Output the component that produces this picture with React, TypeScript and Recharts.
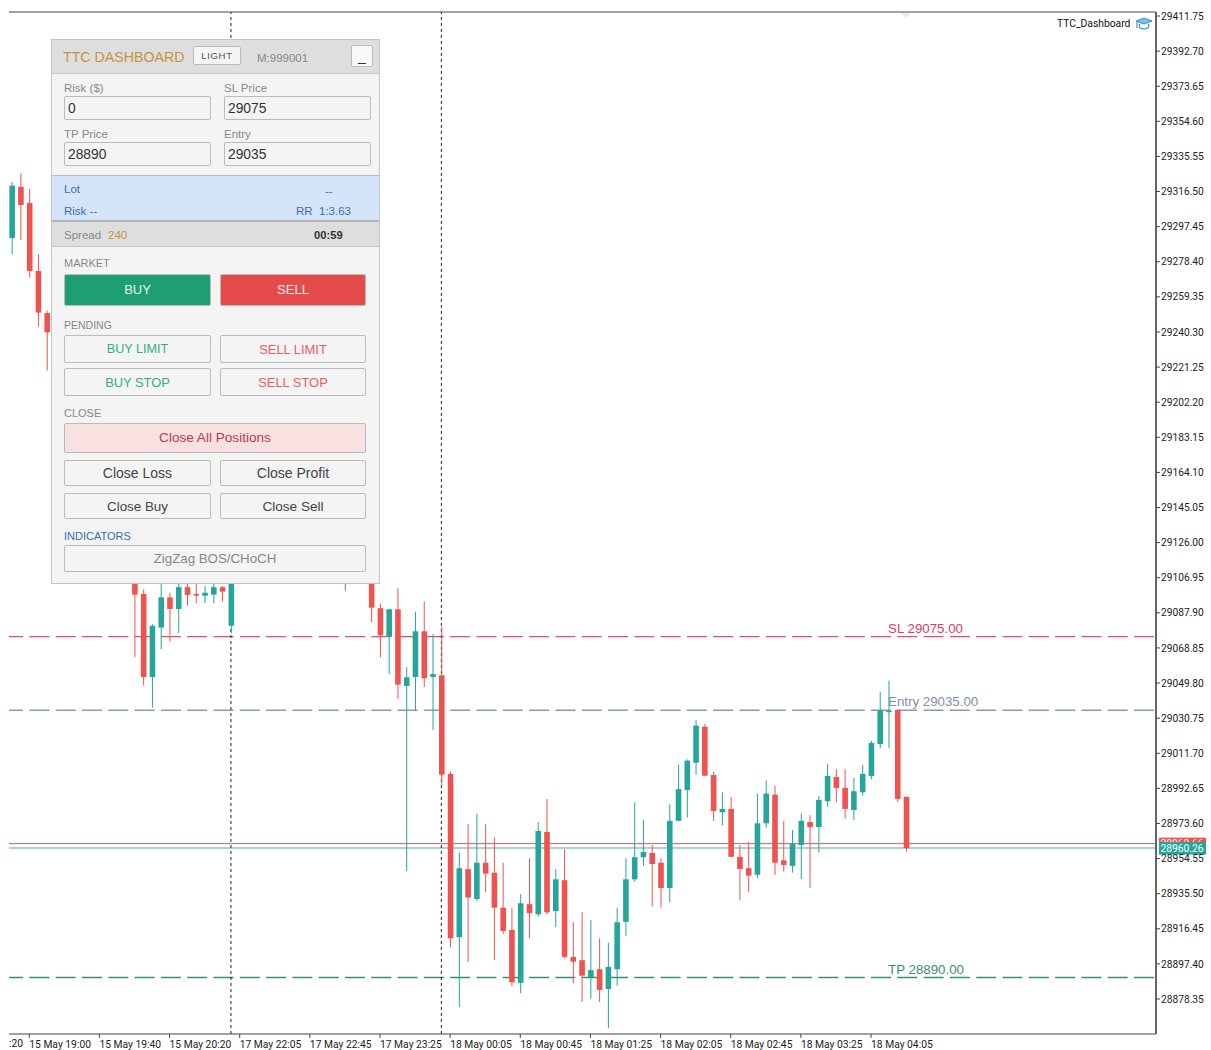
import React from 'react';
import { ComposedChart, Bar, XAxis, YAxis, ReferenceLine, ReferenceDot } from 'recharts';

// Candles hidden completely behind the dashboard panel are left out
const candleIndex = [
  0, 1, 2, 3, 4,
  14, 15, 16, 17, 18, 19, 20, 21, 22, 23, 24, 25,
  38, 41, 42, 43, 44, 45, 46, 47, 48, 49,
  50, 51, 52, 53, 54, 55, 56, 57, 58, 59,
  60, 61, 62, 63, 64, 65, 66, 67, 68, 69,
  70, 71, 72, 73, 74, 75, 76, 77, 78, 79,
  80, 81, 82, 83, 84, 85, 86, 87, 88, 89,
  90, 91, 92, 93, 94, 95, 96, 97, 98, 99,
  100, 101, 102,
];
const opens = [
  29291.3, 29319.0, 29310.3, 29273.4, 29250.6,
  29108.4, 29098.1, 29053.1, 29079.9, 29096.3, 29090.0, 29101.8, 29098.1, 29097.2, 29097.8, 29101.8, 29080.9,
  29108.4, 29108.4, 29090.4, 29075.0, 29089.8, 29048.2, 29053.1, 29077.9, 29053.1, 29054.0,
  29000.5, 28911.9, 28948.8, 28932.6, 28952.3, 28946.9, 28927.9, 28915.8, 28887.1, 28929.8,
  28924.3, 28969.0, 28926.1, 28942.8, 28901.2, 28899.4, 28890.3, 28894.5, 28883.8, 28894.5,
  28920.2, 28943.3, 28955.3, 28957.6, 28952.3, 28938.6, 28975.0, 28991.8, 29006.6, 29026.1,
  28999.9, 28979.7, 28981.5, 28955.5, 28949.3, 28945.8, 28973.7, 28989.2, 28953.6, 28950.6,
  28961.9, 28974.4, 28971.6, 28985.7, 28998.8, 28992.9, 28980.9, 28990.5, 28999.4, 29016.7,
  29034.0, 29035.2, 28988.0,
];
const highs = [
  29321.8, 29326.4, 29317.9, 29282.6, 29251.9,
  29111.2, 29100.7, 29081.7, 29104.1, 29098.8, 29105.7, 29105.7, 29105.7, 29102.5, 29105.2, 29102.5, 29116.6,
  29111.2, 29111.2, 29092.9, 29090.0, 29101.2, 29058.4, 29088.5, 29094.0, 29076.3, 29080.4,
  29001.7, 28957.8, 28973.3, 28978.8, 28973.2, 28966.1, 28952.3, 28927.9, 28935.2, 28954.7,
  28974.4, 28986.9, 28948.8, 28959.6, 28920.0, 28925.4, 28921.3, 28911.3, 28908.9, 28927.9,
  28954.7, 28985.1, 28975.5, 28961.9, 28954.7, 28984.0, 29005.4, 29008.4, 29029.8, 29027.6,
  29001.7, 28990.5, 28988.0, 28961.9, 28963.6, 28989.8, 28997.0, 28994.0, 28975.0, 28970.1,
  28979.1, 28978.1, 28988.5, 29005.9, 29003.0, 29003.0, 28998.3, 29005.4, 29018.4, 29045.1,
  29051.1, 29035.6, 28988.2,
];
const lows = [
  29282.5, 29290.2, 29269.8, 29243.2, 29219.3,
  29063.8, 29048.4, 29036.4, 29068.1, 29072.3, 29076.8, 29091.8, 29093.1, 29093.1, 29093.1, 29094.0, 29076.8,
  29099.9, 29082.8, 29063.8, 29054.7, 29041.2, 28947.8, 29034.8, 29047.7, 29024.3, 28993.6,
  28906.4, 28873.9, 28898.3, 28931.6, 28936.3, 28899.4, 28913.7, 28885.4, 28881.5, 28911.3,
  28923.0, 28924.3, 28917.3, 28900.5, 28886.9, 28876.8, 28878.6, 28876.8, 28862.5, 28885.6,
  28912.6, 28942.0, 28950.6, 28928.5, 28927.9, 28930.9, 28975.0, 28976.8, 29000.1, 28999.5,
  28975.0, 28972.6, 28955.5, 28932.1, 28936.3, 28944.0, 28971.3, 28945.7, 28947.5, 28946.9,
  28943.5, 28938.6, 28957.8, 28982.7, 28985.1, 28976.2, 28975.5, 28988.7, 28997.6, 29014.4,
  29014.4, 28985.1, 28958.3,
];
const closes = [
  29319.7, 29309.2, 29273.4, 29250.8, 29240.1,
  29097.8, 29053.1, 29080.9, 29096.3, 29090.0, 29101.8, 29097.6, 29097.2, 29098.8, 29101.8, 29099.4, 29111.2,
  29106.8, 29090.7, 29075.7, 29089.8, 29048.9, 29052.9, 29077.9, 29052.4, 29054.7, 29000.1,
  28911.3, 28949.3, 28933.4, 28952.3, 28946.4, 28927.9, 28915.3, 28887.4, 28930.3, 28924.9,
  28969.5, 28925.4, 28943.3, 28901.2, 28898.6, 28891.0, 28894.0, 28883.3, 28895.8, 28920.0,
  28943.3, 28955.3, 28958.1, 28951.6, 28938.6, 28975.0, 28992.2, 29007.7, 29026.7, 28999.5,
  28980.4, 28981.5, 28955.5, 28948.9, 28945.3, 28973.7, 28989.8, 28952.3, 28951.1, 28962.7,
  28975.0, 28971.6, 28986.4, 28999.4, 28992.9, 28981.5, 28991.1, 29000.5, 29017.3, 29035.0,
  29034.7, 28986.9, 28960.2,
];

const priceTicks = [
  29411.75, 29392.7, 29373.65, 29354.6, 29335.55, 29316.5, 29297.45, 29278.4, 29259.35, 29240.3,
  29221.25, 29202.2, 29183.15, 29164.1, 29145.05, 29126.0, 29106.95, 29087.9, 29068.85, 29049.8,
  29030.75, 29011.7, 28992.65, 28973.6, 28954.55, 28935.5, 28916.45, 28897.4, 28878.35,
];
const timeTicks = [2, 10, 18, 26, 34, 42, 50, 58, 66, 74, 82, 90, 98];
const timeLabels = [
  '15 May 19:00', '15 May 19:40', '15 May 20:20', '17 May 22:05', '17 May 22:45', '17 May 23:25',
  '18 May 00:05', '18 May 00:45', '18 May 01:25', '18 May 02:05', '18 May 02:45', '18 May 03:25', '18 May 04:05',
];
const crosshairCandles = [25, 49];

const slPrice = 29075;
const entryPrice = 29035;
const tpPrice = 28890;
const bidPrice = 28960.26;
const askPrice = 28962.66;

const UP = '#26a69a';
const DOWN = '#ef5350';
const AXIS_FONT = 'Roboto, sans-serif';
const PANEL_FONT = '"Liberation Sans", Arial, sans-serif';
const X_DOMAIN = [-0.31, 130.5];
const Y_DOMAIN = [28859.36, 29413.92];
const DASH = '20 6.3';
const LINE_Z = 100; // keep price lines and crosshairs under the candles

const chartData = candleIndex.map((index, i) => ({
  index,
  open: opens[i],
  high: highs[i],
  low: lows[i],
  close: closes[i],
}));

// Bar spans low..high, so the body can be placed from the same pixel ratio
const Candle = (props: any) => {
  const { x, y, width, height, payload } = props;
  const { open, high, low, close } = payload;
  const color = close >= open ? UP : DOWN;
  const ratio = height / (high - low);
  const bodyTop = y + (high - Math.max(open, close)) * ratio;
  const bodyH = Math.max(Math.abs(open - close) * ratio, 1);
  const cx = x + width / 2;
  return (
    <g>
      <line x1={cx} x2={cx} y1={y} y2={y + height} stroke={color} strokeWidth={1} />
      <rect x={x} y={bodyTop} width={width} height={bodyH} fill={color} />
    </g>
  );
};

const TimeTick = (props: any) => {
  const { x, y, payload } = props;
  return (
    <text x={x} y={y + 8} textAnchor="start" fontSize={10.3} fontFamily={AXIS_FONT} fill="#222">
      {timeLabels[timeTicks.indexOf(payload.value)]}
    </text>
  );
};

const lineLabel = (text: string, color: string) => (p: any) => (
  <text x={p.cx - 0.5} y={p.cy - 4} fontSize={13.3} fontFamily={PANEL_FONT} fill={color}>
    {text}
  </text>
);

const priceTag = (text: string, color: string) => (p: any) => (
  <g>
    <rect x={p.cx + 3} y={p.cy - 6} width={47} height={12.5} fill={color} />
    <text x={p.cx + 26} y={p.cy + 3.5} textAnchor="middle" fontSize={10.3} fontFamily={AXIS_FONT} fill="#fff">
      {text}
    </text>
  </g>
);

const inputLabel = { color: '#888', size: 11.5 };

const Label = ({ x, y, text, color = inputLabel.color, size = inputLabel.size, weight = 400 }: any) => (
  <div
    style={{
      position: 'absolute', left: x, top: y - 9, height: 18, lineHeight: '18px',
      color, fontSize: size, fontWeight: weight, whiteSpace: 'pre',
    }}
  >
    {text}
  </div>
);

const Box = ({ x, y, w, h, text, color = '#444', bg = '#f4f4f4', size = 14, border = '#bbb', spacing = 0, pad = 0 }: any) => (
  <div
    style={{
      position: 'absolute', left: x, top: y, width: w, height: h, boxSizing: 'border-box',
      display: 'flex', alignItems: 'center', justifyContent: 'center', paddingBottom: pad,
      background: bg, color, fontSize: size, letterSpacing: spacing, border: `1px solid ${border}`, borderRadius: 2,
    }}
  >
    {text}
  </div>
);

const Field = ({ x, y, text }: any) => (
  <div
    style={{
      position: 'absolute', left: x, top: y, width: 147, height: 24, boxSizing: 'border-box',
      border: '1px solid #bbb', borderRadius: 2, paddingLeft: 3, lineHeight: '23px',
      fontSize: 13.8, color: '#333',
    }}
  >
    {text}
  </div>
);

const Band = ({ y, h, bg }: any) => (
  <div style={{ position: 'absolute', left: 52, top: y, width: 327, height: h, background: bg }} />
);

const Panel = () => (
  <div style={{ position: 'absolute', left: 0, top: 0, fontFamily: PANEL_FONT, zIndex: 5 }}>
    <div
      style={{
        position: 'absolute', left: 51, top: 39, width: 329, height: 545, boxSizing: 'border-box',
        background: '#f4f4f4', border: '1px solid #c4c4c4',
      }}
    />
    <Band y={40} h={33} bg="#dedede" />
    <div style={{ position: 'absolute', left: 52, top: 73, width: 327, height: 1, background: '#c8c8c8' }} />
    <Label x={63} y={57} text="TTC DASHBOARD" color="#c8933a" size={14.2} />
    <Box x={193} y={46} w={48} h={19} text="LIGHT" color="#555" size={9.6} spacing={0.6} />
    <Label x={257} y={58} text="M:999001" color="#888" size={11.5} />
    <Box x={351} y={45} w={22} h={22} text="_" color="#333" size={14} bg="#f8f8f8" />

    <Label x={64} y={88} text="Risk ($)" />
    <Label x={224} y={88} text="SL Price" />
    <Field x={64} y={96} text="0" />
    <Field x={224} y={96} text="29075" />
    <Label x={64} y={134} text="TP Price" />
    <Label x={224} y={134} text="Entry" />
    <Field x={64} y={142} text="28890" />
    <Field x={224} y={142} text="29035" />

    <div style={{ position: 'absolute', left: 52, top: 175, width: 327, height: 1, background: '#bbb' }} />
    <Band y={176} h={44} bg="#d6e4fa" />
    <Label x={64} y={189} text="Lot" color="#3a6db0" />
    <Label x={325} y={191} text="--" color="#3a6db0" />
    <Label x={64} y={211} text="Risk --" color="#3a6db0" />
    <Label x={296} y={211} text="RR  1:3.63" color="#3a6db0" />
    <Band y={220} h={27} bg="#dedede" />
    <div style={{ position: 'absolute', left: 52, top: 220, width: 327, height: 2, background: '#b4b4b4' }} />
    <div style={{ position: 'absolute', left: 52, top: 246, width: 327, height: 1, background: '#c4c4c4' }} />
    <Label x={64} y={235} text="Spread" />
    <Label x={108} y={235} text="240" color="#c8933a" />
    <Label x={314} y={235} text="00:59" color="#333" weight={700} size={11.2} />

    <Label x={64} y={263} text="MARKET" size={11} />
    <Box x={64} y={274} w={147} h={32} text="BUY" color="#e8f5ef" bg="#1d9e75" size={13} pad={2} />
    <Box x={220} y={274} w={146} h={32} text="SELL" color="#fdeeee" bg="#e54b4b" size={13} pad={2} />

    <Label x={64} y={325} text="PENDING" size={10.5} />
    <Box x={64} y={335} w={147} h={28} text="BUY LIMIT" color="#2fae8a" size={12.6} />
    <Box x={220} y={335} w={146} h={28} text="SELL LIMIT" color="#ee5a64" size={12.9} />
    <Box x={64} y={368} w={147} h={28} text="BUY STOP" color="#2fae8a" size={12.9} />
    <Box x={220} y={368} w={146} h={28} text="SELL STOP" color="#ee5a64" size={12.9} />

    <Label x={64} y={413} text="CLOSE" size={11} />
    <Box x={64} y={423} w={302} h={30} text="Close All Positions" color="#c0384c" bg="#f9e1e1" size={13.6} pad={2} />
    <Box x={64} y={460} w={147} h={26} text="Close Loss" />
    <Box x={220} y={460} w={146} h={26} text="Close Profit" />
    <Box x={64} y={493} w={147} h={26} text="Close Buy" size={13.4} />
    <Box x={220} y={493} w={146} h={26} text="Close Sell" size={13.6} />

    <Label x={64} y={536} text="INDICATORS" color="#3a6db0" size={11} />
    <Box x={64} y={545} w={302} h={27} text="ZigZag BOS/CHoCH" color="#888" size={13.3} />
  </div>
);

const Signature = () => (
  <div style={{ position: 'absolute', left: 0, top: 0, zIndex: 4 }}>
    <div
      style={{
        position: 'absolute', left: 1057, top: 16, lineHeight: '16px', fontSize: 10.3,
        fontFamily: AXIS_FONT, color: '#111', whiteSpace: 'pre',
      }}
    >
      TTC_Dashboard
    </div>
    <svg style={{ position: 'absolute', left: 1135, top: 16 }} width={18} height={16}>
      <path d="M1 5 L9 2 L17 5 L9 8 Z" fill="#7cc0ee" stroke="#3d8fd0" strokeWidth={1} />
      <path d="M4.5 7.5 V11.5 Q9 14.5 13.5 11.5 V7.5" fill="none" stroke="#3d8fd0" strokeWidth={1.2} />
      <path d="M2 6 V12" stroke="#3d8fd0" strokeWidth={1.2} />
    </svg>
    <div
      style={{
        position: 'absolute', left: 9, top: 1036, lineHeight: '16px', fontSize: 10.3,
        fontFamily: AXIS_FONT, color: '#222',
      }}
    >
      :20
    </div>
    <svg style={{ position: 'absolute', left: 901, top: 13 }} width={10} height={6}>
      <path d="M0 0 H10 L5 5 Z" fill="#ececf0" />
    </svg>
  </div>
);

export default function App() {
  return (
    <div style={{ position: 'absolute', left: 0, top: 0, width: 1211, height: 1050, background: '#fff' }}>
      <ComposedChart
        width={1211}
        height={1050}
        data={chartData}
        margin={{ top: 12, right: 0, bottom: 0, left: 9 }}
      >
        <XAxis
          type="number"
          dataKey="index"
          domain={X_DOMAIN}
          allowDataOverflow
          ticks={timeTicks}
          interval={0}
          height={16}
          tickSize={4}
          tick={<TimeTick />}
          axisLine={{ stroke: '#444' }}
          tickLine={{ stroke: '#444' }}
        />
        <YAxis
          type="number"
          orientation="right"
          domain={Y_DOMAIN}
          allowDataOverflow
          ticks={priceTicks}
          interval={0}
          width={55}
          tickSize={4}
          tickMargin={1}
          tickFormatter={(v: number) => v.toFixed(2)}
          tick={{ fontSize: 10.2, fontFamily: AXIS_FONT, fill: '#222', textAnchor: 'start' }}
          axisLine={{ stroke: '#666', strokeWidth: 2 }}
          tickLine={{ stroke: '#444' }}
        />
        <ReferenceLine y={Y_DOMAIN[1]} stroke="#444" strokeWidth={1} />
        <ReferenceLine y={slPrice} stroke="#e0506e" strokeWidth={1.4} strokeDasharray={DASH} strokeDashoffset={-2} zIndex={LINE_Z} />
        <ReferenceLine y={entryPrice} stroke="#8a9bb0" strokeWidth={1.4} strokeDasharray={DASH} strokeDashoffset={-2} zIndex={LINE_Z} />
        <ReferenceLine y={tpPrice} stroke="#3a9168" strokeWidth={1.4} strokeDasharray={DASH} strokeDashoffset={-2} zIndex={LINE_Z} />
        <ReferenceLine y={askPrice} stroke={DOWN} strokeWidth={1} zIndex={LINE_Z} />
        <ReferenceLine y={bidPrice} stroke="#80cbc4" strokeWidth={1.6} zIndex={LINE_Z} />
        {crosshairCandles.map((c) => (
          <ReferenceLine key={c} x={c} stroke="#222" strokeWidth={1} strokeDasharray="3 3" zIndex={LINE_Z} />
        ))}
        <Bar
          dataKey={(d: any) => [d.low, d.high]}
          barSize={5.6}
          shape={<Candle />}
          isAnimationActive={false}
        />
        <ReferenceDot x={100} y={slPrice} r={0} ifOverflow="visible" shape={lineLabel('SL 29075.00', '#e0366a')} />
        <ReferenceDot x={100} y={entryPrice} r={0} ifOverflow="visible" shape={lineLabel('Entry 29035.00', '#7f90a8')} />
        <ReferenceDot x={100} y={tpPrice} r={0} ifOverflow="visible" shape={lineLabel('TP 28890.00', '#3a9168')} />
        <ReferenceDot x={X_DOMAIN[1]} y={askPrice} r={0} ifOverflow="visible" shape={priceTag(askPrice.toFixed(2), DOWN)} />
        <ReferenceDot x={X_DOMAIN[1]} y={bidPrice} r={0} ifOverflow="visible" shape={priceTag(bidPrice.toFixed(2), UP)} />
      </ComposedChart>
      <Signature />
      <Panel />
    </div>
  );
}
